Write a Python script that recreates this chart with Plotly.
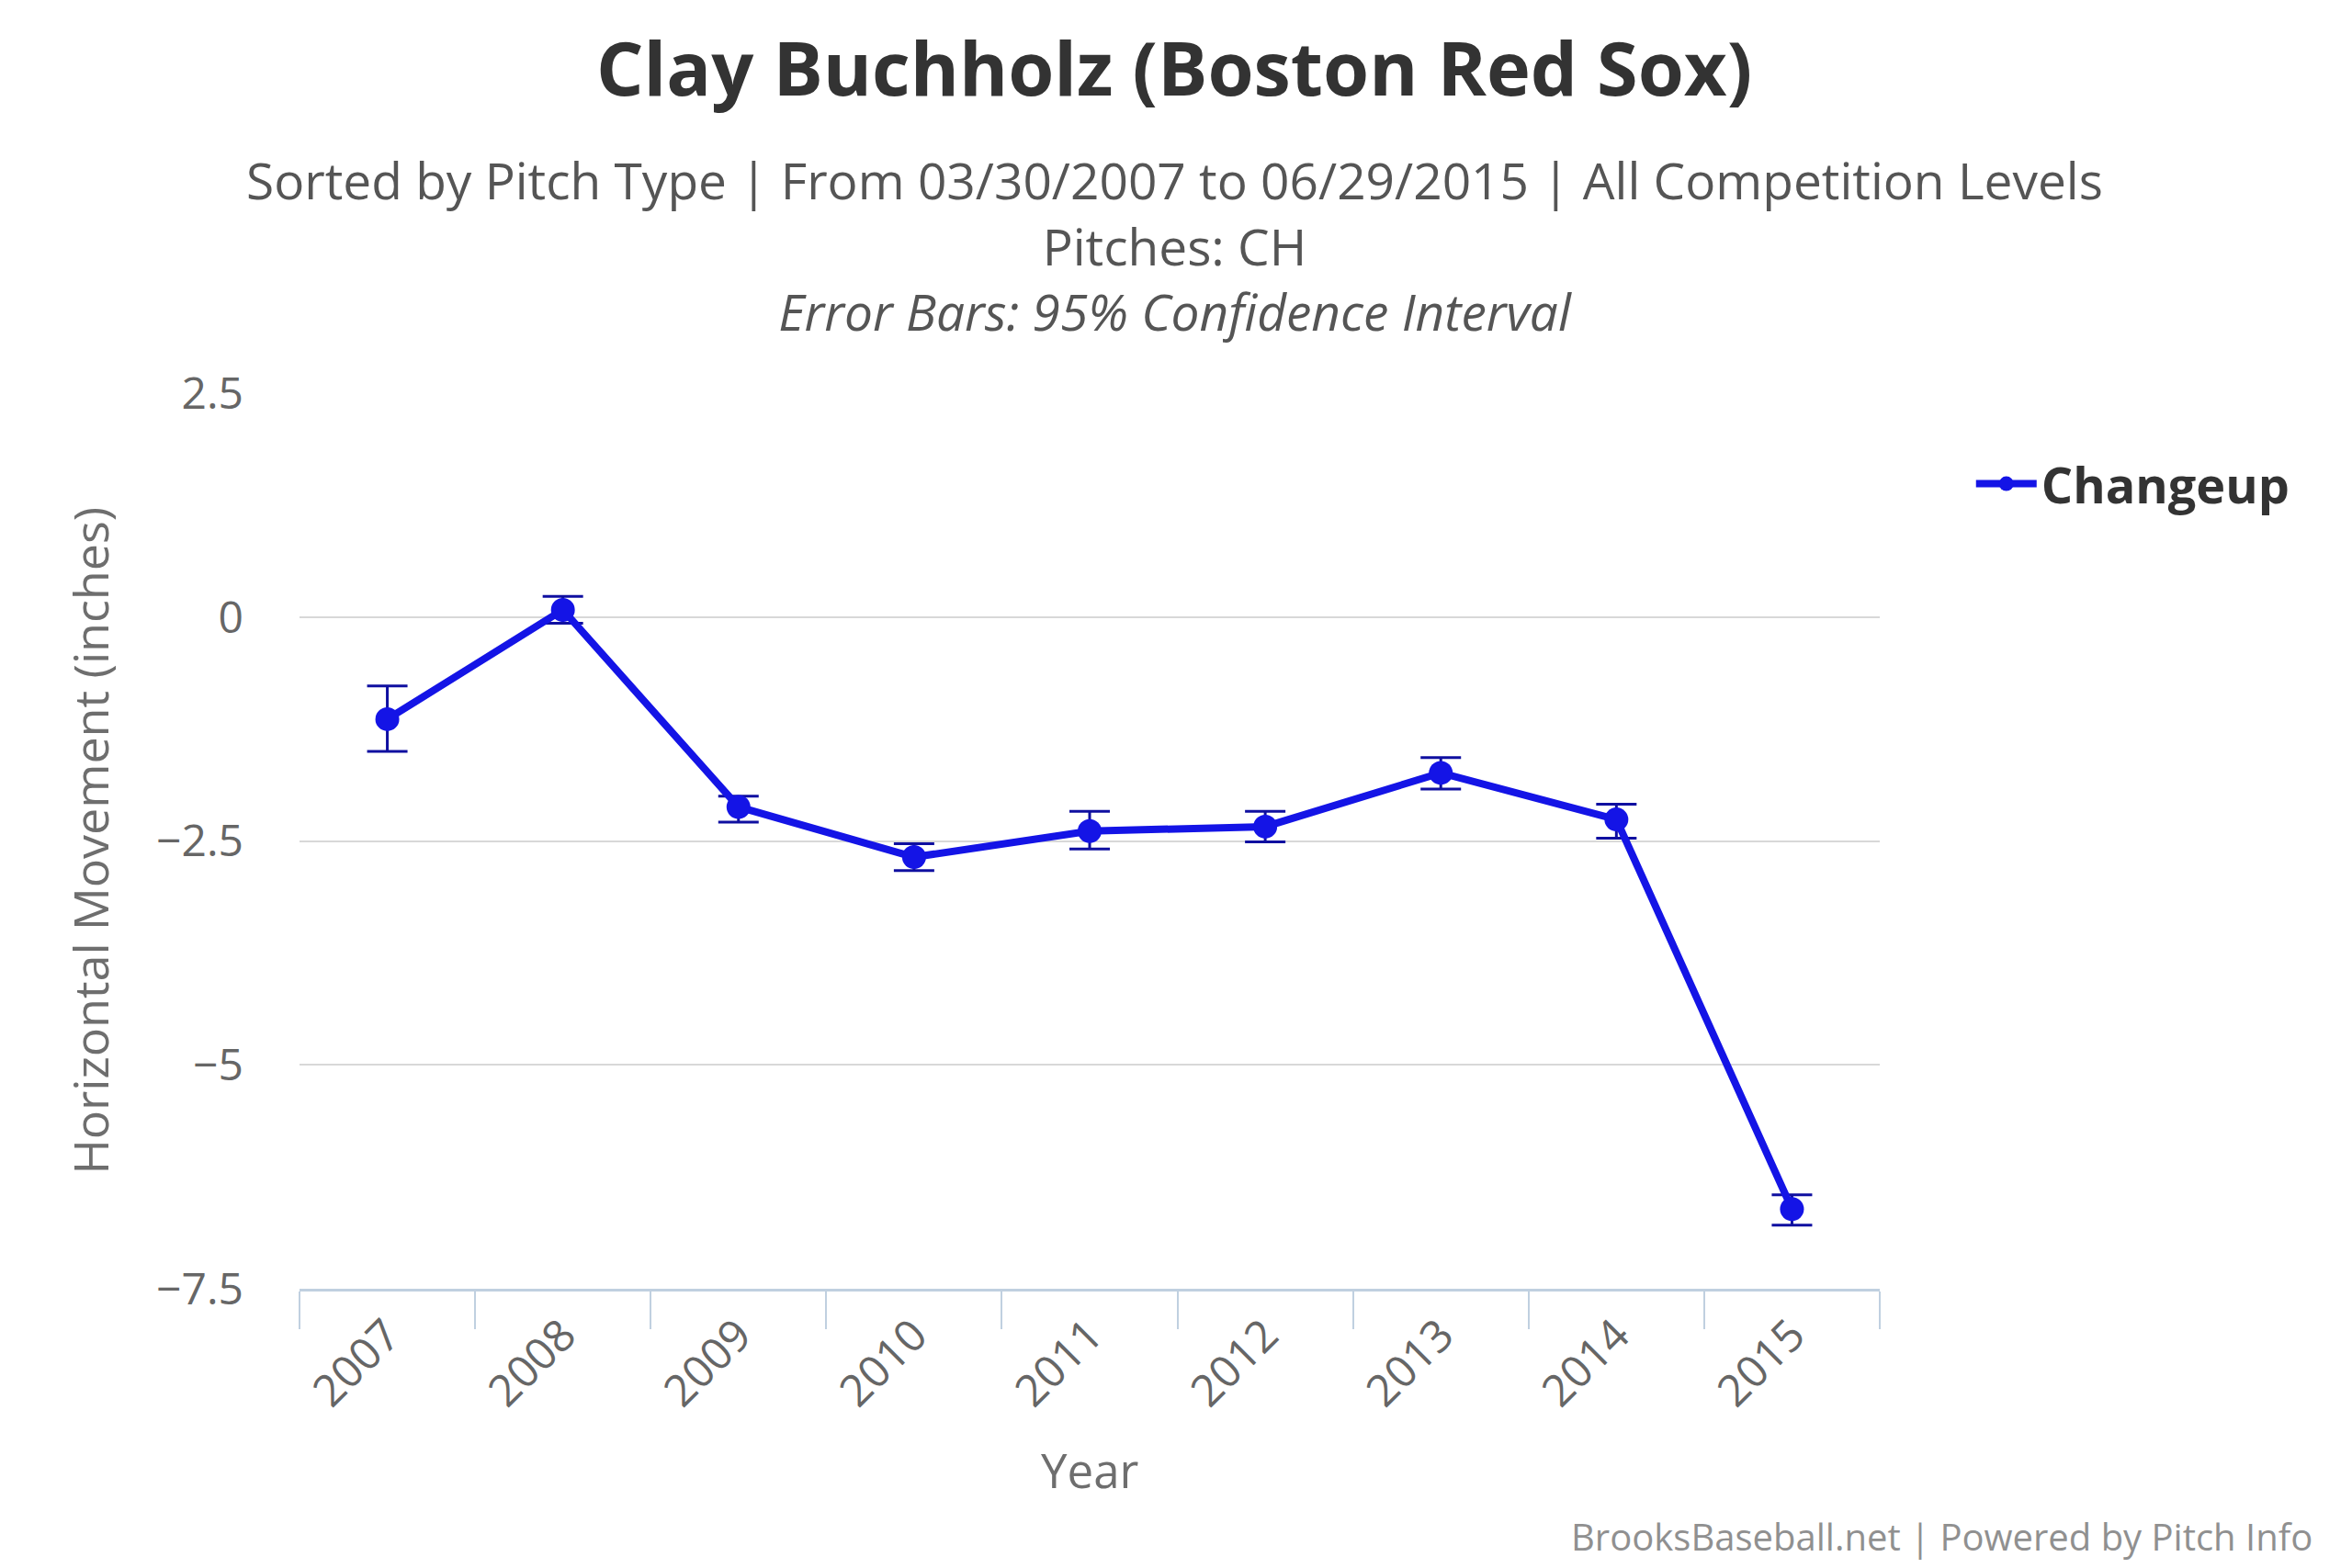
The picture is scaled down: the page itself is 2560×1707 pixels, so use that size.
import plotly.graph_objects as go

# Data
years = ["2007", "2008", "2009", "2010", "2011", "2012", "2013", "2014", "2015"]
movement = [-1.14, 0.08, -2.12, -2.68, -2.39, -2.34, -1.74, -2.26, -6.61]
ci_upper = [-0.77, 0.23, -2.00, -2.53, -2.17, -2.17, -1.57, -2.09, -6.45]
ci_lower = [-1.50, -0.07, -2.29, -2.83, -2.59, -2.51, -1.92, -2.47, -6.79]
y_ticks = [2.5, 0, -2.5, -5, -7.5]
y_labels = ["2.5", "0", "−2.5", "−5", "−7.5"]

err_plus = [u - v for u, v in zip(ci_upper, movement)]
err_minus = [v - l for v, l in zip(movement, ci_lower)]

FONT = "Open Sans"
SERIES_BLUE = "#1414E6"
ERR_BLUE = "#0F0FA0"

fig = go.Figure()
fig.add_trace(
    go.Scatter(
        x=years,
        y=movement,
        mode="lines+markers",
        name="Changeup",
        line=dict(color=SERIES_BLUE, width=8),
        marker=dict(color=SERIES_BLUE, size=26),
        error_y=dict(
            type="data",
            symmetric=False,
            array=err_plus,
            arrayminus=err_minus,
            color=ERR_BLUE,
            thickness=3,
            width=22,
        ),
    )
)

fig.update_layout(
    width=2560,
    height=1707,
    margin=dict(l=318, r=522, t=420, b=312),
    paper_bgcolor="white",
    plot_bgcolor="white",
    font=dict(family=FONT, color="#666666"),
    showlegend=True,
    legend=dict(
        x=1.058,
        y=0.8985,
        xanchor="left",
        yanchor="middle",
        itemwidth=66,
        font=dict(family=FONT, size=54, color="#333333", weight="bold"),
        bgcolor="rgba(0,0,0,0)",
    ),
    xaxis=dict(
        type="category",
        range=[-0.5, 8.5],
        tickson="boundaries",
        ticks="outside",
        ticklen=41,
        tickwidth=2,
        tickcolor="#C0D0E0",
        showline=True,
        linecolor="#C0D0E0",
        linewidth=3,
        showgrid=False,
        tickangle=-45,
        tickfont=dict(family=FONT, size=48, color="#666666"),
    ),
    yaxis=dict(
        range=[-7.5, 2.5],
        tickvals=y_ticks,
        ticktext=y_labels,
        showgrid=True,
        gridcolor="#D8D8D8",
        gridwidth=2,
        zeroline=False,
        showline=False,
        ticks="",
        ticklabelstandoff=60,
        tickfont=dict(family=FONT, size=48, color="#666666"),
    ),
)

center = 0.5535  # figure centre in plot-paper units
subtitle = (
    "Sorted by Pitch Type | From 03/30/2007 to 06/29/2015 | All Competition Levels"
    "<br>Pitches: CH"
    "<br><i>Error Bars: 95% Confidence Interval</i>"
)
annotations = [
    dict(text="<b>Clay Buchholz (Boston Red Sox)</b>", x=center, y=1.365,
         font=dict(size=81, color="#333333")),
    dict(text=subtitle, x=center, y=1.1651, font=dict(size=55, color="#555555")),
    dict(text="Year", x=0.5, y=-0.2021, font=dict(size=51, color="#6E6E6E")),
    dict(text="Horizontal Movement (inches)", x=-0.1331, y=0.5, textangle=-90,
         font=dict(size=52, color="#6E6E6E")),
    dict(text="BrooksBaseball.net | Powered by Pitch Info", x=1.275, y=-0.2759,
         xanchor="right", font=dict(size=40, color="#909090")),
]
for a in annotations:
    a.setdefault("xanchor", "center")
    a["font"]["family"] = FONT
    fig.add_annotation(xref="paper", yref="paper", showarrow=False,
                       yanchor="middle", **a)

fig.write_html("out.html")
